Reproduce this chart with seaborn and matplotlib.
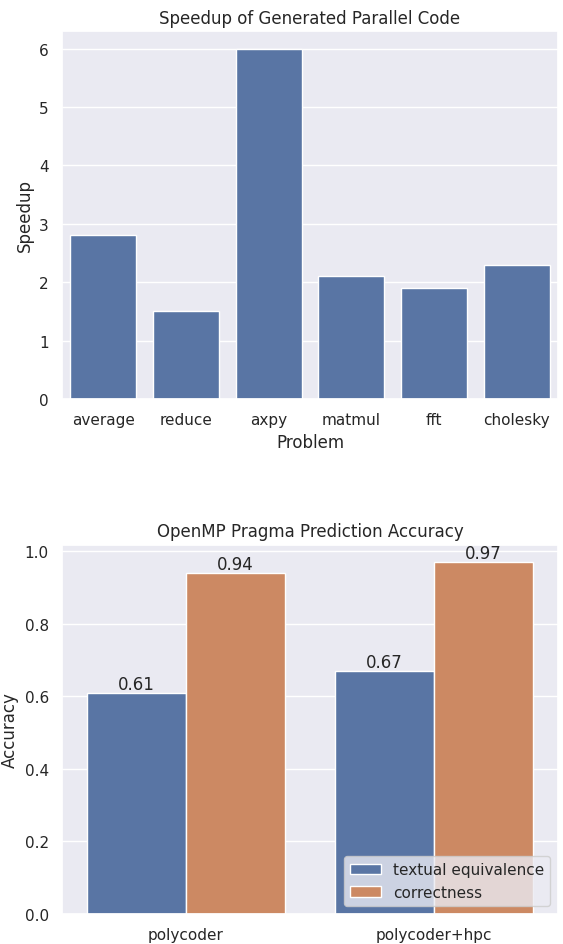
import matplotlib
matplotlib.use("Agg")
import matplotlib.pyplot as plt
import seaborn as sns
import pandas as pd

# Data
problems = ["average", "reduce", "axpy", "matmul", "fft", "cholesky"]
speedups = [2.8, 1.5, 6.0, 2.1, 1.9, 2.3]

models = ["polycoder", "polycoder+hpc"]
textual_equivalence = [0.61, 0.67]
correctness = [0.94, 0.97]
metric_names = ["textual equivalence", "correctness"]

sns.set_theme(style="darkgrid")

fig = plt.figure(figsize=(5.63, 9.45), dpi=100)
ax1 = fig.add_axes([62 / 563, 1 - 400 / 945, 496 / 563, 368 / 945])
ax2 = fig.add_axes([62 / 563, 1 - 914.7 / 945, 496 / 563, 369 / 945])

df1 = pd.DataFrame({"Problem": problems, "Speedup": speedups})
sns.barplot(data=df1, x="Problem", y="Speedup", ax=ax1, color=sns.color_palette()[0])
ax1.set_title("Speedup of Generated Parallel Code")

df2 = pd.DataFrame({
    "model": models * 2,
    "Accuracy": textual_equivalence + correctness,
    "metric": [metric_names[0]] * len(models) + [metric_names[1]] * len(models),
})
sns.barplot(data=df2, x="model", y="Accuracy", hue="metric", ax=ax2)
for c in ax2.containers:
    ax2.bar_label(c, fmt="%.2f")
ax2.set_title("OpenMP Pragma Prediction Accuracy")
ax2.set_xlabel("")
ax2.legend(loc="lower right", title=None)

fig.savefig("out.png", dpi=100)
